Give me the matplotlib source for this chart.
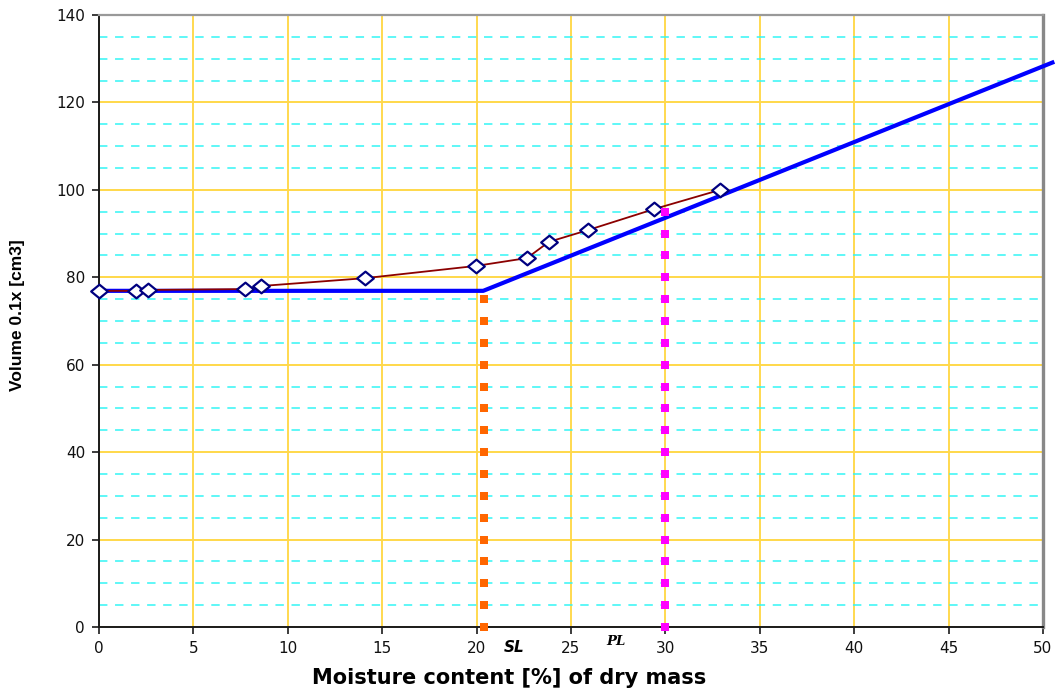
import numpy as np
import matplotlib
matplotlib.use("Agg")
import matplotlib.pyplot as plt
from matplotlib.path import Path
from matplotlib.ticker import MultipleLocator

# Measured moisture content [%] and specimen volume
moisture = [0.0, 1.96, 2.6, 7.73, 8.58, 14.09, 19.97, 22.67, 23.83, 25.9, 29.4, 32.9]
volume = [76.9, 76.9, 77.1, 77.3, 78.0, 79.8, 82.6, 84.4, 88.1, 90.8, 95.6, 100.0]

# Idealised shrinkage line (constant volume below SL, linear above)
shrink_x = [0.0, 20.35, 50.6]
shrink_y = [76.9, 76.9, 129.3]

# Shrinkage limit and plastic limit markers
sl_x, sl_top = 20.4, 75
pl_x, pl_top = 30.0, 95
marker_step = 5

plt.rcParams['font.family'] = ['DejaVu Sans']

fig = plt.figure(figsize=(10.62, 6.92), dpi=100)
ax = fig.add_axes([99 / 1062, 65 / 692, 944 / 1062, 612 / 692])

ax.set_xlim(0, 50)
ax.set_ylim(0, 140)
ax.xaxis.set_major_locator(MultipleLocator(5))
ax.yaxis.set_major_locator(MultipleLocator(20))
ax.yaxis.set_minor_locator(MultipleLocator(5))

# Grid
ax.set_axisbelow(True)
ax.grid(axis='x', which='major', color='#FFCF1F', lw=1.1)
ax.grid(axis='y', which='major', color='#FFD84A', lw=1.4)
ax.grid(axis='y', which='minor', color='#33F5F5', lw=1.1, linestyle=(0, (5.5, 5)))
ax.tick_params(axis='y', which='minor', length=0)

# Shrinkage line
ax.plot(shrink_x, shrink_y, color='#0000FF', lw=3.0, solid_capstyle='butt',
        clip_on=False, zorder=3)

# Measurements: slightly flattened diamond markers
diamond = Path([(-1.0, 0.0), (0.0, 0.82), (1.0, 0.0), (0.0, -0.82), (-1.0, 0.0)],
               [Path.MOVETO, Path.LINETO, Path.LINETO, Path.LINETO, Path.CLOSEPOLY])
ax.plot(moisture, volume, color='#8B0000', lw=1.3, zorder=4, clip_on=False,
        marker=diamond, markersize=12, markerfacecolor='white',
        markeredgecolor='#000080', markeredgewidth=1.6)

# Dotted verticals at SL and PL
sl_y = np.arange(0, sl_top + 0.1, marker_step)
pl_y = np.arange(0, pl_top + 0.1, marker_step)
ax.plot(np.full_like(sl_y, sl_x), sl_y, linestyle='none', marker='s',
        markersize=5.2, markeredgewidth=0, color='#FF6600', zorder=5, clip_on=False)
ax.plot(np.full_like(pl_y, pl_x), pl_y, linestyle='none', marker='s',
        markersize=5.2, markeredgewidth=0, color='#FF00FF', zorder=5, clip_on=False)

# Spines
for side in ('left', 'bottom'):
    ax.spines[side].set_color('#1a1a1a')
    ax.spines[side].set_linewidth(1.4)
ax.spines['top'].set_color('#999999')
ax.spines['top'].set_linewidth(1.6)
ax.spines['right'].set_color('#888888')
ax.spines['right'].set_linewidth(2.4)

ax.tick_params(axis='both', which='major', direction='out', length=5,
               width=1.2, color='#1a1a1a', labelsize=11, labelcolor='#111111', pad=5)

# Limit labels below the axis
ax.text(sl_x + 1.6, -4.8, 'SL', fontsize=11, fontweight='bold', fontstyle='italic',
        ha='center', va='center', clip_on=False)
ax.text(pl_x - 2.6, -3.4, 'PL', fontsize=9.5, fontweight='bold', fontstyle='italic',
        family=['DejaVu Serif'], ha='center', va='center', clip_on=False)

fig.text(509 / 1062, 1 - 678 / 692, 'Moisture content [%] of dry mass',
         fontsize=15, fontweight='bold', ha='center', va='center')
fig.text(18 / 1062, 1 - 315 / 692, 'Volume 0.1x [cm3]', fontsize=12.5,
         fontweight='bold', rotation=90, ha='center', va='center',
         family=['Liberation Sans Narrow', 'Liberation Sans'])

fig.savefig('out.png', dpi=100)
